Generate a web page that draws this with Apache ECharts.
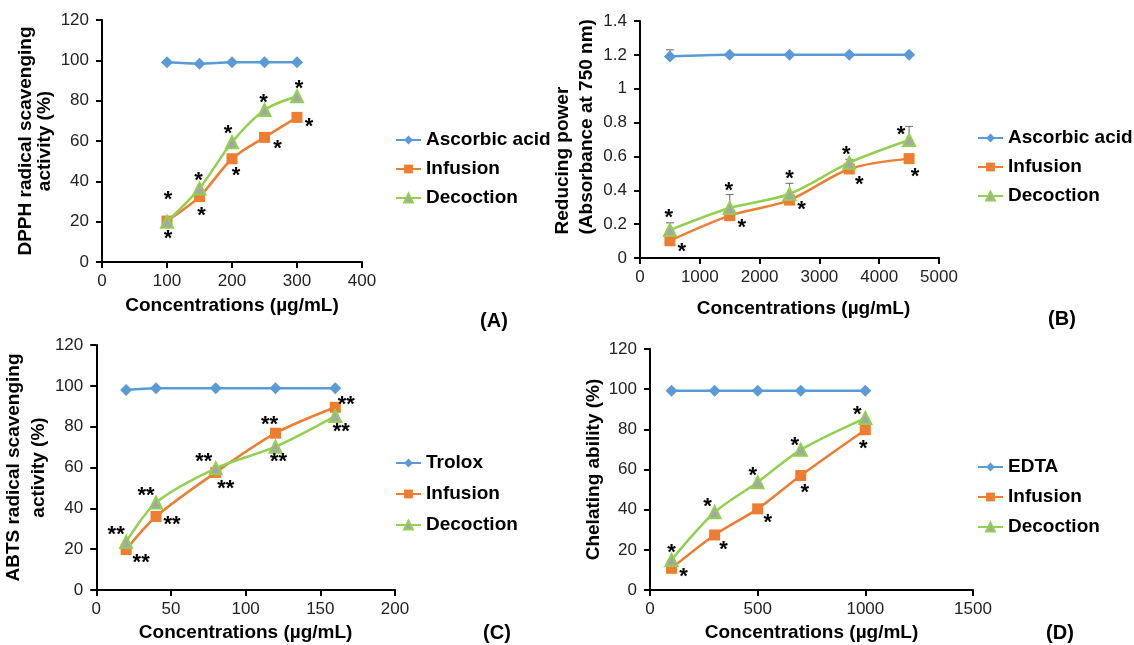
<!DOCTYPE html>
<html>
<head>
<meta charset="utf-8">
<script src="https://cdn.jsdelivr.net/npm/echarts@6/dist/echarts.min.js"></script>
<style>html,body{margin:0;padding:0;background:#fff}#c{width:1134px;height:645px}</style>
</head>
<body>
<div id="c"></div>
<script>
// ---------- DATA ----------
// Panel A: DPPH
const concA = [100, 150, 200, 250, 300];
const ascorbicA = [99, 98.3, 99, 99, 99];
const infusionA = [20.3, 32.4, 51.2, 61.8, 71.7];
const decoctionA = [20, 36.5, 59.4, 75.4, 82.2];
// Panel B: Reducing power
const concB = [500, 1500, 2500, 3500, 4500];
const ascorbicB = [1.19, 1.2, 1.2, 1.2, 1.2];
const infusionB = [0.102, 0.25, 0.342, 0.526, 0.587];
const decoctionB = [0.165, 0.295, 0.378, 0.563, 0.697];
const ascorbicErrB = [0.04, 0, 0, 0, 0];
const decoctionErrB = [0.043, 0.08, 0.063, 0.02, 0.08];
// Panel C: ABTS
const concC = [20, 40, 80, 120, 160];
const troloxC = [98, 98.8, 98.8, 98.8, 98.8];
const infusionC = [19.8, 36, 57.6, 76.8, 89.5];
const decoctionC = [23.5, 42.8, 59.6, 70.2, 85.2];
// Panel D: Chelating
const concD = [100, 300, 500, 700, 1000];
const edtaD = [99.2, 99.2, 99.2, 99.2, 99.2];
const infusionD = [10.8, 27.4, 40.4, 57, 79.8];
const decoctionD = [15, 38.7, 53.7, 69.8, 85.6];
// significance marks
const markA = '*', markB = '*', markC = '**', markD = '*';

// ---------- STYLE (label placement, visual offsets in px) ----------
const offA_dec = [[1,-27],[-1,-12],[-4,-13],[-1,-12],[2,-12]];
const offA_inf = [[1,13],[2,14],[4,12],[13,7],[12,5]];
const offB_dec = [[-1,-17],[-1,-22],[0,-20],[-3,-13],[-8,-10]];
const offB_inf = [[12,6],[12,7],[12,5],[10,11],[6,13]];
const offC_dec = [[-10,-12],[-10,-12],[-12,-11],[3,10],[6,11]];
const offC_inf = [[15,8],[16,3],[10,12],[-6,-13],[11,-7]];
const offD_dec = [[0,-12],[-7,-10],[-5,-11],[-6,-9],[-8,-8]];
const offD_inf = [[12,4],[9,10],[10,9],[4,12],[-2,14]];

const BLUE = '#5B9BD5', ORANGE = '#ED7D31', GREEN = '#92D050';
const FONT = 'Arial, "Liberation Sans", sans-serif';
const GLYPH = 5; // asterisk glyph sits above text centre

function pts(xs, ys) { return xs.map((x, i) => [x, ys[i]]); }
function labeled(xs, ys, mark, offs) {
  return xs.map((x, i) => ({
    value: [x, ys[i]],
    label: { show: true, formatter: mark, position: 'inside', offset: [offs[i][0], offs[i][1] + GLYPH] }
  }));
}
const labelBase = { color: '#000', fontSize: 22, fontWeight: 'bold', fontFamily: FONT };

function refSeries(name, xs, ys, gi) {
  return { name, type: 'line', xAxisIndex: gi, yAxisIndex: gi, data: pts(xs, ys), smooth: 0.3,
    symbol: 'diamond', symbolSize: 12, lineStyle: { color: BLUE, width: 2.5 }, itemStyle: { color: BLUE }, z: 3 };
}
function infSeries(xs, ys, mark, offs, gi) {
  return { name: 'Infusion', type: 'line', xAxisIndex: gi, yAxisIndex: gi, data: labeled(xs, ys, mark, offs), smooth: 0.3,
    symbol: 'rect', symbolSize: 11, lineStyle: { color: ORANGE, width: 2.5 }, itemStyle: { color: ORANGE },
    label: labelBase, z: 4 };
}
function decSeries(xs, ys, mark, offs, gi) {
  return { name: 'Decoction', type: 'line', xAxisIndex: gi, yAxisIndex: gi, data: labeled(xs, ys, mark, offs), smooth: 0.3,
    symbol: 'triangle', symbolSize: 12, lineStyle: { color: GREEN, width: 2.5 },
    itemStyle: { color: '#A6A6A6', borderColor: GREEN, borderWidth: 2 }, label: labelBase, z: 5 };
}
function errSeries(xs, ys, errs, gi) {
  const d = xs.map((x, i) => [x, ys[i], errs[i]]).filter(v => v[2] > 0);
  return { name: 'err' + gi, type: 'custom', xAxisIndex: gi, yAxisIndex: gi, data: d, z: 2, silent: true,
    renderItem(params, api) {
      const x = api.value(0), y = api.value(1), e = api.value(2);
      const p0 = api.coord([x, y]), p1 = api.coord([x, y + e]);
      const st = { stroke: '#7F7F7F', lineWidth: 1.2 };
      return { type: 'group', children: [
        { type: 'line', shape: { x1: p0[0], y1: p0[1], x2: p1[0], y2: p1[1] }, style: st },
        { type: 'line', shape: { x1: p1[0] - 4, y1: p1[1], x2: p1[0] + 4, y2: p1[1] }, style: st }
      ] };
    } };
}

const nameStyle = { color: '#000', fontSize: 19, fontWeight: 'bold', fontFamily: FONT };
const axisCommon = {
  axisLine: { show: true, lineStyle: { color: '#000', width: 2 } },
  axisTick: { show: true, inside: false, length: 6, lineStyle: { color: '#000', width: 2 } },
  splitLine: { show: false },
  nameLocation: 'middle'
};
const plain = v => String(+(+v).toFixed(1));
function xAx(gi, min, max, interval, gap, pad) {
  return Object.assign({}, axisCommon, { type: 'value', gridIndex: gi, min, max, interval,
    axisLabel: { color: '#222', fontSize: 17, fontFamily: FONT, margin: 11, formatter: plain },
    name: 'Concentrations (µg/mL)', nameGap: gap,
    nameTextStyle: Object.assign({}, nameStyle, { lineHeight: 22, padding: pad || 0 }) });
}
function yAx(gi, min, max, interval, name, gap, extra) {
  return Object.assign({}, axisCommon, { type: 'value', gridIndex: gi, min, max, interval, name, nameGap: gap,
    axisLabel: { color: '#222', fontSize: 17, fontFamily: FONT, margin: 13, formatter: plain },
    nameRotate: 90, nameTextStyle: Object.assign({}, nameStyle, extra || {}) });
}
function legend(left, top, gap, names) {
  return { left, top, orient: 'vertical', data: names, selectedMode: false, padding: 0,
    itemWidth: 25, itemHeight: 11, itemGap: gap,
    textStyle: { color: '#000', fontSize: 19, fontWeight: 'bold', fontFamily: FONT, lineHeight: 20 } };
}
function panelLabel(text, x, y) {
  return { type: 'text', x, y, style: { text, fontSize: 20, fontWeight: 'bold', fontFamily: FONT, fill: '#000', textAlign: 'center', textVerticalAlign: 'middle' } };
}

const option = {
  backgroundColor: '#fff',
  animation: false,
  grid: [
    { left: 102, top: 20, width: 260, height: 242 },
    { left: 640, top: 21, width: 299, height: 237 },
    { left: 96, top: 345, width: 299, height: 245 },
    { left: 650, top: 349, width: 323, height: 241 }
  ],
  xAxis: [
    xAx(0, 0, 400, 100, 33),
    xAx(1, 0, 5000, 1000, 40, [0, 0, 0, 28]),
    xAx(2, 0, 200, 50, 32),
    xAx(3, 0, 1500, 500, 32)
  ],
  yAxis: [
    yAx(0, 0, 120, 20, 'DPPH radical scavenging\nactivity (%)', 48, { lineHeight: 19 }),
    yAx(1, 0, 1.4, 0.2, '{a|Reducing power}\n{a|(Absorbance at 750 nm)}', 41,
      { rich: { a: { width: 212, align: 'left', fontSize: 19, fontWeight: 'bold', fontFamily: FONT, color: '#000', lineHeight: 24 } }, padding: [0, 0, 0, 22] }),
    yAx(2, 0, 120, 20, 'ABTS radical scavenging\nactivity (%)', 37, { lineHeight: 25 }),
    yAx(3, 0, 120, 20, 'Chelating ability (%)', 41, { lineHeight: 22 })
  ],
  legend: [
    legend(395, 130, 9, ['Ascorbic acid', 'Infusion', 'Decoction']),
    legend(977, 128, 9, ['Ascorbic acid', 'Infusion', 'Decoction']),
    legend(395, 453, 11, ['Trolox', 'Infusion', 'Decoction']),
    legend(977, 457, 10, ['EDTA', 'Infusion', 'Decoction'])
  ],
  graphic: [
    panelLabel('(A)', 494, 321),
    panelLabel('(B)', 1062, 319),
    panelLabel('(C)', 497, 633),
    panelLabel('(D)', 1060, 633)
  ],
  series: [
    refSeries('Ascorbic acid', concA, ascorbicA, 0),
    infSeries(concA, infusionA, markA, offA_inf, 0),
    decSeries(concA, decoctionA, markA, offA_dec, 0),
    errSeries(concB, ascorbicB, ascorbicErrB, 1),
    errSeries(concB, decoctionB, decoctionErrB, 1),
    refSeries('Ascorbic acid', concB, ascorbicB, 1),
    infSeries(concB, infusionB, markB, offB_inf, 1),
    decSeries(concB, decoctionB, markB, offB_dec, 1),
    refSeries('Trolox', concC, troloxC, 2),
    infSeries(concC, infusionC, markC, offC_inf, 2),
    decSeries(concC, decoctionC, markC, offC_dec, 2),
    refSeries('EDTA', concD, edtaD, 3),
    infSeries(concD, infusionD, markD, offD_inf, 3),
    decSeries(concD, decoctionD, markD, offD_dec, 3)
  ]
};
const chart = echarts.init(document.getElementById('c'), null, { renderer: 'canvas' });
chart.setOption(option);
</script>
</body>
</html>
